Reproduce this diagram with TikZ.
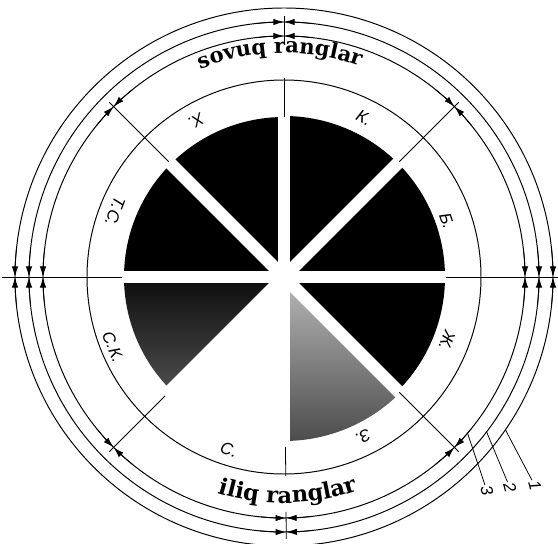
\documentclass[tikz,border=0pt]{standalone}
\usepackage{fontspec}
\newfontfamily\ringfont{DejaVu Serif}
\newfontfamily\labfont{Liberation Sans}
\usetikzlibrary{arrows.meta,decorations.text}

\begin{document}
\begin{tikzpicture}[x=0.025cm,y=0.025cm,>={Latex[length=7.5pt,width=4.5pt]},
    ring/.style={line width=0.7pt},
    tick/.style={line width=0.55pt},
    gap/.style={white,line width=9pt},
    lab/.style={font=\labfont\itshape\fontsize{12}{12}\selectfont,inner sep=1pt}]
    \useasboundingbox[fill=white] (-284,-267) rectangle (274,277);
    % sectors
    \fill[black] (0,0) -- (90:160) arc (90:135:160) -- cycle;
    \fill[black] (0,0) -- (135:160) arc (135:180:160) -- cycle;
    \fill[black] (0,0) -- (45:161) arc (45:90:161) -- cycle;
    \fill[black] (0,0) -- (0:161) arc (0:45:161) -- cycle;
    \fill[black] (0,0) -- (-45:161) arc (-45:0:161) -- cycle;
    \shade[top color=gray!55,bottom color=black!70] (0,0) -- (-45:164) arc (-45:-88:164) -- cycle;
    \shade[top color=black!95,bottom color=black!70] (0,0) -- (180:160) arc (180:225:160) -- cycle;
    % white gaps
    \draw[gap] (0,0) -- (90:170);
    \draw[gap] (0,0) -- (45:170);
    \draw[gap] (0,0) -- (0:170);
    \draw[gap] (0,0) -- (-45:170);
    \draw[gap] (0,0) -- (-90:170);
    \draw[gap] (0,0) -- (180:170);
    \draw[gap] (0,0) -- (135:170);
    \draw[gap] (0,0) -- (225:170);
    % circles
    \draw[ring] (0,0) circle (197);
    \draw[ring] (0,0) circle (241);
    \draw[ring] (0,0) circle (255);
    \draw[ring] (0,0) circle (269);
    % radial ticks
    \draw[tick] (0:162) -- (0:278);
    \draw[tick] (180:162) -- (180:282);
    \draw[tick] (90:160) -- (90:199);
    \draw[tick] (90:234) -- (90:261);
    \draw[tick] (-89.5:170) -- (-89.5:199);
    \draw[tick] (-89.5:235) -- (-89.5:262);
    \draw[tick] (45:163) -- (45:247);
    \draw[tick] (135:163) -- (135:247);
    \draw[tick] (225:168) -- (225:247);
    \draw[tick] (-45:163) -- (-45:247);
    % arrows on circle 3
    \draw[tick,->] (6:241) arc (6:0:241);
    \draw[tick,->] (-6:241) arc (-6:0:241);
    \draw[tick,->] (51:241) arc (51:45:241);
    \draw[tick,->] (39:241) arc (39:45:241);
    \draw[tick,->] (96:241) arc (96:90:241);
    \draw[tick,->] (84:241) arc (84:90:241);
    \draw[tick,->] (141:241) arc (141:135:241);
    \draw[tick,->] (129:241) arc (129:135:241);
    \draw[tick,->] (186:241) arc (186:180:241);
    \draw[tick,->] (174:241) arc (174:180:241);
    \draw[tick,->] (231:241) arc (231:225:241);
    \draw[tick,->] (219:241) arc (219:225:241);
    \draw[tick,->] (-83.5:241) arc (-83.5:-89.5:241);
    \draw[tick,->] (-95.5:241) arc (-95.5:-89.5:241);
    \draw[tick,->] (-39:241) arc (-39:-45:241);
    \draw[tick,->] (-51:241) arc (-51:-45:241);
    % arrows on circle 2
    \draw[tick,->] (6:255) arc (6:0:255);
    \draw[tick,->] (-6:255) arc (-6:0:255);
    \draw[tick,->] (96:255) arc (96:90:255);
    \draw[tick,->] (84:255) arc (84:90:255);
    \draw[tick,->] (186:255) arc (186:180:255);
    \draw[tick,->] (174:255) arc (174:180:255);
    \draw[tick,->] (-83.5:255) arc (-83.5:-89.5:255);
    \draw[tick,->] (-95.5:255) arc (-95.5:-89.5:255);
    % arrows on circle 1
    \draw[tick,->] (6:269) arc (6:0:269);
    \draw[tick,->] (-6:269) arc (-6:0:269);
    \draw[tick,->] (186:269) arc (186:180:269);
    \draw[tick,->] (174:269) arc (174:180:269);
    % ring titles
    \path[decorate,decoration={text along path,text align=center,
      text={|\ringfont\bfseries\fontsize{15}{15}\selectfont|sovuq ranglar}}]
      (133:224) arc (133:49:224);
    \path[decorate,decoration={text along path,text align=center,
      text={|\ringfont\bfseries\fontsize{16}{16}\selectfont|iliq ranglar}}]
      (-132:226) arc (-132:-46:226);
    % sector labels
    \node[lab,rotate=-27] (k) at (80,159) {К.};
    \node[lab,rotate=-71] (b) at (163,56) {Б.};
    \node[lab,rotate=-111] (zh) at (163,-64) {Ж.};
    \node[lab,rotate=-154] (z) at (79,-160) {З.};
    \node[lab,rotate=-18] (s) at (-55,-173) {С.};
    \node[lab,rotate=-68] (sk) at (-171,-70) {С.К.};
    \node[lab,rotate=-111] (ts) at (-169,65) {Т.С.};
    \node[lab,rotate=-151] (x) at (-88,156) {Х.};
    % circle numbers
    \coordinate (c1) at (-34.6:269);
    \coordinate (c2) at (-37.4:255);
    \coordinate (c3) at (-40.4:241);
    \node[lab,rotate=-75] (n1) at (251,-209) {1};
    \node[lab,rotate=-75] (n2) at (226,-211) {2};
    \node[lab,rotate=-75] (n3) at (203,-214) {3};
    \draw[tick] (c1) -- (n1);
    \draw[tick] (c2) -- (n2);
    \draw[tick] (c3) -- (n3);
\end{tikzpicture}
\end{document}
